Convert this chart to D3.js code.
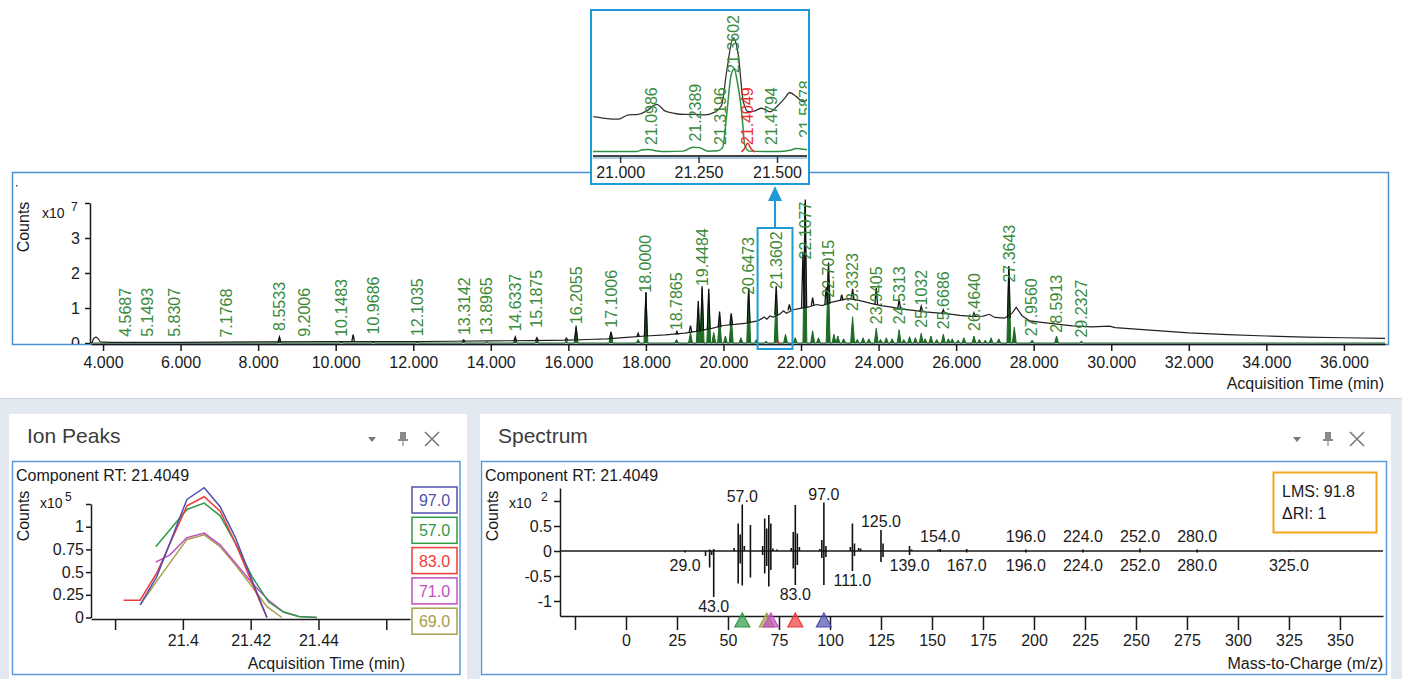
<!DOCTYPE html>
<html><head><meta charset="utf-8">
<script src="https://cdn.jsdelivr.net/npm/d3@7"></script>
<style>
body{margin:0;background:#fff;}
svg{display:block;}
</style></head><body>
<svg id="c" width="1402" height="679"></svg>
<script>
// ---------------- DATA ----------------
// Main chromatogram: TIC baseline (time min, counts x1e7)
const ticBaseline = [[3.69,0.0],[3.72,0.02],[3.76,0.13],[3.82,0.17],[3.88,0.12],[3.93,0.03],[4.2,0.02],[6,0.02],[8,0.03],[10,0.04],[12,0.04],[13,0.05],[14,0.06],[15,0.07],[16,0.08],[16.5,0.1],[17,0.12],[17.5,0.16],[18,0.2],[18.5,0.23],[19,0.28],[19.3,0.33],[19.7,0.42],[20,0.5],[20.3,0.53],[20.6,0.57],[20.9,0.64],[21.05,0.74],[21.12,0.68],[21.2,0.77],[21.28,0.74],[21.45,0.82],[21.55,0.92],[21.62,0.85],[21.8,0.95],[21.95,0.98],[22.2,1.03],[22.4,1.1],[22.55,1.07],[22.8,1.17],[23.0,1.22],[23.2,1.27],[23.4,1.24],[23.6,1.19],[23.8,1.13],[24.1,1.06],[24.3,1.03],[24.6,0.97],[24.9,0.93],[25.2,0.89],[25.5,0.86],[25.8,0.83],[26.1,0.79],[26.4,0.76],[26.7,0.77],[26.85,0.82],[27.0,0.73],[27.25,0.71],[27.45,0.86],[27.55,1.02],[27.7,0.78],[27.9,0.63],[28.2,0.59],[28.6,0.54],[29.0,0.49],[29.5,0.46],[29.95,0.48],[30.1,0.44],[31,0.37],[32,0.29],[33,0.24],[34,0.2],[35,0.17],[36,0.15],[37.06,0.13]];
// TIC spikes: [time, base, apex]
const ticPeaks = [[8.55,0.03,0.17],[10.45,0.04,0.24],[13.3,0.05,0.09],[14.63,0.06,0.17],[15.19,0.07,0.15],[15.95,0.08,0.14],[16.2,0.09,0.45],[17.1,0.13,0.32],[17.8,0.18,0.28],[18.0,0.2,1.45],[18.8,0.24,0.33],[19.15,0.3,0.5],[19.35,0.33,1.2],[19.45,0.36,1.62],[19.62,0.4,1.55],[19.9,0.45,0.9],[20.2,0.52,0.85],[20.65,0.58,1.57],[21.36,0.8,1.63],[21.7,0.93,1.1],[22.05,1.0,2.6],[22.11,1.01,4.1],[22.3,1.06,1.3],[22.65,1.1,1.6],[22.71,1.12,2.3],[23.05,1.22,1.38],[23.33,1.25,1.55],[23.94,1.1,1.57],[24.53,0.98,1.25],[25.1,0.9,1.05],[25.67,0.85,0.95],[26.46,0.76,0.86],[27.36,0.71,2.2]];
// Component (green) peaks: [time, apex]
const greenPeaks = [[8.55,0.15],[10.15,0.04],[10.97,0.04],[12.1,0.03],[13.3,0.05],[13.9,0.03],[14.63,0.13],[15.19,0.1],[15.95,0.06],[16.2,0.5],[17.1,0.3],[17.8,0.1],[18.0,1.45],[18.79,0.1],[19.15,0.3],[19.35,1.0],[19.45,1.55],[19.62,1.4],[19.75,0.3],[19.9,0.75],[20.05,0.2],[20.2,0.8],[20.45,0.15],[20.65,1.55],[20.85,0.1],[21.1,0.05],[21.36,1.4],[21.6,0.25],[21.85,0.15],[22.1,4.0],[22.3,0.35],[22.45,0.15],[22.7,2.1],[22.85,0.25],[22.95,0.2],[23.1,0.12],[23.33,0.75],[23.45,0.1],[23.6,0.15],[23.75,0.12],[23.94,0.42],[24.05,0.1],[24.2,0.15],[24.35,0.12],[24.53,0.38],[24.65,0.1],[24.8,0.18],[24.95,0.15],[25.1,0.28],[25.2,0.12],[25.35,0.2],[25.5,0.1],[25.67,0.25],[25.8,0.12],[25.9,0.12],[26.05,0.08],[26.2,0.15],[26.46,0.2],[26.6,0.1],[26.75,0.08],[26.9,0.15],[27.1,0.12],[27.36,2.15],[27.5,0.45],[27.96,0.08],[28.59,0.2],[29.23,0.05]];
const redPeaks = [[21.405,0.05]];
const peakLabelTimes = [4.5687,5.1493,5.8307,7.1768,8.5533,9.2006,10.1483,10.9686,12.1035,13.3142,13.8965,14.6337,15.1875,16.2055,17.1006,18.0000,18.7865,19.4484,20.6473,21.3602,22.1077,22.7015,23.3323,23.9405,24.5313,25.1032,25.6686,26.4640,27.3643,27.9560,28.5913,29.2327];
const peakLabelLevels = [0.09,0.09,0.09,0.07,0.26,0.09,0.09,0.16,0.11,0.14,0.14,0.24,0.35,0.45,0.35,1.35,0.28,1.54,1.29,1.45,2.3,1.21,0.83,0.45,0.45,0.35,0.31,0.26,1.64,0.11,0.21,0.07];
const mainTicks = [4,6,8,10,12,14,16,18,20,22,24,26,28,30,32,34,36];
const mainYTicks = [0,1,2,3,4];

// Zoom inset
const insetBlack = [[20.913,0.81],[20.95,0.77],[20.993,0.75],[21.025,0.85],[21.056,0.86],[21.083,0.94],[21.115,1.09],[21.141,0.94],[21.173,0.88],[21.205,0.86],[21.237,0.86],[21.269,0.85],[21.3,0.91],[21.322,1.07],[21.338,1.84],[21.359,2.61],[21.375,2.22],[21.391,1.15],[21.407,0.92],[21.428,0.94],[21.449,1.0],[21.476,0.92],[21.502,1.07],[21.523,1.23],[21.539,1.36],[21.561,1.26],[21.582,1.15],[21.594,1.19]];
const insetGreen = [[20.912,0.01],[21.05,0.01],[21.07,0.05],[21.09,0.06],[21.11,0.03],[21.15,0.01],[21.2,0.02],[21.23,0.11],[21.25,0.1],[21.28,0.02],[21.31,0.03],[21.325,0.1],[21.338,0.85],[21.352,1.75],[21.362,1.9],[21.372,1.6],[21.386,0.9],[21.396,0.15],[21.41,0.02],[21.5,0.01],[21.54,0.04],[21.56,0.08],[21.575,0.07],[21.594,0.05]];
const insetRed = [[21.385,0.0],[21.395,0.08],[21.405,0.2],[21.415,0.08],[21.428,0.0]];
const insetLabelTimes = [21.0986,21.2389,21.3196,21.3602,21.4049,21.4794,21.5878];
const insetLabelLevels = [0.09,0.17,0.09,1.74,0.09,0.09,0.25];
const insetLabelRed = [false,false,false,false,true,false,false];
const insetTicks = [21.0,21.25,21.5];

// Ion peaks (time, counts x1e5)
const ionNames = ["97.0","57.0","83.0","71.0","69.0"];
const ion97 = [[21.3874,0.14],[21.3923,0.45],[21.4012,1.30],[21.4063,1.43],[21.411,1.22],[21.4155,0.88],[21.4204,0.41],[21.4248,0]];
const ion57 = [[21.392,0.78],[21.4012,1.19],[21.4063,1.26],[21.411,1.12],[21.4155,0.82],[21.4204,0.45],[21.4253,0.17],[21.4297,0.06],[21.4342,0.01],[21.4395,0]];
const ion83 = [[21.3825,0.19],[21.3874,0.19],[21.3923,0.49],[21.4012,1.23],[21.4063,1.33],[21.411,1.17],[21.4155,0.82],[21.4204,0.38],[21.4248,0]];
const ion71 = [[21.392,0.61],[21.3962,0.69],[21.4012,0.88],[21.4063,0.93],[21.411,0.80],[21.4155,0.60],[21.4204,0.38],[21.4253,0.19],[21.4297,0.06],[21.4342,0.01],[21.4395,0]];
const ion69 = [[21.3874,0.14],[21.3923,0.40],[21.4012,0.86],[21.4063,0.91],[21.411,0.78],[21.4155,0.58],[21.4204,0.34],[21.4248,0.12],[21.4292,0]];
const ionTicks = [21.38,21.40,21.42,21.44,21.46];
const ionTickLabels = ["","21.4","21.42","21.44",""];
const ionYTicks = [0,0.25,0.5,0.75,1,1.25];

// Spectrum (m/z, intensity x1e2); library drawn mirrored
const sampleSpectrum = [[29,0.01],[41,0.03],[43,0.04],[53,0.06],[55,0.55],[56,0.33],[57,0.93],[58,0.1],[61,0.52],[67,0.1],[68,0.65],[69,0.45],[70,0.72],[71,0.55],[72,0.05],[74,0.03],[81,0.06],[82,0.38],[83,0.92],[84,0.35],[85,0.08],[95,0.04],[96,0.22],[97,0.97],[98,0.1],[110,0.08],[111,0.55],[112,0.15],[114,0.06],[115,0.05],[125,0.42],[126,0.15],[139,0.1],[140,0.03],[153,0.03],[154,0.04],[167,0.04],[196,0.03],[224,0.03],[252,0.05],[280,0.03]];
const librarySpectrum = [[29,0.03],[39,0.1],[41,0.33],[42,0.08],[43,0.92],[55,0.65],[56,0.25],[57,0.69],[61,0.53],[67,0.08],[68,0.45],[69,0.3],[70,0.71],[71,0.38],[82,0.35],[83,0.68],[84,0.28],[96,0.14],[97,0.68],[98,0.12],[111,0.4],[112,0.1],[125,0.22],[126,0.12],[139,0.08],[154,0.02],[167,0.03],[196,0.03],[224,0.03],[252,0.03],[280,0.03],[325,0.01]];
const sampleLabelMz = [57,97,125,154,196,224,252,280];
const libraryLabelMz = [29,43,83,111,139,167,196,224,252,280,325];
const ionMarkerMz = [57,69,71,83,97];
const specTicks = [-25,0,25,50,75,100,125,150,175,200,225,250,275,300,325,350];
const specYTicks = [-1,-0.5,0,0.5,1];

// ---------------- DRAWING ----------------
const FONT = '"Liberation Sans", Arial, sans-serif';
const TXT = '#1a1a1a';
const svg = d3.select('#c').attr('font-family', FONT);

const ionColor = {"97.0":"#5050b0","57.0":"#2f9a45","83.0":"#ee3a3a","71.0":"#c24fc2","69.0":"#a4a04a"};
const markerColor = {57:"#2f9a45",69:"#a4a04a",71:"#c24fc2",83:"#ee3a3a",97:"#5050b0"};

svg.append('rect').attr('width',1402).attr('height',679).attr('fill','#fff');
svg.append('rect').attr('x',0).attr('y',398).attr('width',1402).attr('height',281).attr('fill','#e2e9f0');
svg.append('line').attr('x1',0).attr('x2',1402).attr('y1',398.5).attr('y2',398.5).attr('stroke','#cfd6de');

function styleAxis(g){
  g.attr('font-family', FONT).attr('font-size', 16);
  g.selectAll('text').attr('fill', TXT);
  g.selectAll('line').attr('stroke', TXT).attr('stroke-width', 1.5);
  g.select('.domain').attr('stroke', TXT).attr('stroke-width', 1.5);
}
function expLabel(x, y, base, exp, ex){
  svg.append('text').attr('x',x).attr('y',y).attr('font-size',14).attr('fill',TXT).text(base);
  svg.append('text').attr('x',ex).attr('y',y-7).attr('font-size',12).attr('fill',TXT).text(exp);
}
const defs = svg.append('defs');

// ===== MAIN CHART =====
const xMain = d3.scaleLinear().domain([3.69, 37.06]).range([91, 1385]);
const yMain = d3.scaleLinear().domain([0, 4]).range([343, 203]);

defs.append('clipPath').attr('id','clipMain').append('rect').attr('x',91).attr('y',173).attr('width',1295).attr('height',171);
defs.append('clipPath').attr('id','clipMainY').append('rect').attr('x',-90).attr('y',173).attr('width',100).attr('height',171);

svg.append('rect').attr('x',12.5).attr('y',172.5).attr('width',1376).attr('height',172)
  .attr('fill','none').attr('stroke','#4a8fd2').attr('stroke-width',1.5);
svg.append('rect').attr('x',16).attr('y',185).attr('width',1.5).attr('height',1.5).attr('fill','#555');

const plotMain = svg.append('g').attr('clip-path','url(#clipMain)');
const gw = 0.05;
let gpts = [[xMain.domain()[0],0]];
greenPeaks.forEach(p => { gpts.push([p[0]-gw,0],[p[0],p[1]],[p[0]+gw,0]); });
gpts.push([xMain.domain()[1],0]);
const lineMain = d3.line().x(d=>xMain(d[0])).y(d=>yMain(d[1]));
plotMain.append('path').attr('d', lineMain(gpts)).attr('fill','#1d6b24').attr('stroke','#1d6b24').attr('stroke-width',1);
redPeaks.forEach(p=>{
  plotMain.append('path').attr('d', lineMain([[p[0]-0.03,0],[p[0],p[1]],[p[0]+0.03,0]])).attr('fill','none').attr('stroke','#e03030').attr('stroke-width',1.5);
});
plotMain.append('path').attr('d', lineMain(ticBaseline)).attr('fill','none').attr('stroke','#222').attr('stroke-width',1.2);
ticPeaks.forEach(p=>{
  plotMain.append('path').attr('d', lineMain([[p[0]-0.035,p[1]],[p[0],p[2]],[p[0]+0.035,p[1]]]))
    .attr('fill','none').attr('stroke','#111').attr('stroke-width',1.3);
});
peakLabelTimes.forEach((t,i)=>{
  svg.append('text').attr('transform',`translate(${xMain(t)},${yMain(peakLabelLevels[i])-3}) rotate(-90)`)
    .attr('dominant-baseline','central').attr('font-size',16).attr('fill','#3a8a3a').text(t.toFixed(4));
});
const gxm = svg.append('g').attr('transform','translate(0,344)')
  .call(d3.axisBottom(xMain).tickValues(mainTicks).tickFormat(d3.format('.3f')).tickSize(7).tickSizeOuter(0).tickPadding(6));
styleAxis(gxm);
const gym = svg.append('g').attr('transform','translate(90,0)').attr('clip-path','url(#clipMainY)')
  .call(d3.axisLeft(yMain).tickValues(mainYTicks).tickFormat(d=> d===4 ? '' : d).tickSize(5).tickSizeOuter(0).tickPadding(5));
styleAxis(gym);
expLabel(42, 218, 'x10', '7', 71);
svg.append('text').attr('transform','translate(23,227) rotate(-90)').attr('text-anchor','middle').attr('dominant-baseline','central').attr('font-size',16).attr('fill',TXT).text('Counts');
svg.append('text').attr('x',1384).attr('y',389).attr('text-anchor','end').attr('font-size',16).attr('fill',TXT).text('Acquisition Time (min)');

const selX0 = xMain(20.88), selX1 = xMain(21.78), selXc = xMain(21.33);
svg.append('rect').attr('x',selX0).attr('y',228).attr('width',selX1-selX0).attr('height',121)
  .attr('fill','none').attr('stroke','#1e9bd7').attr('stroke-width',2);
svg.append('line').attr('x1',selXc).attr('x2',selXc).attr('y1',228).attr('y2',199).attr('stroke','#1e9bd7').attr('stroke-width',2);
svg.append('path').attr('d',`M${selXc},186 L${selXc-7},201 L${selXc+7},201 Z`).attr('fill','#1e9bd7');

// ===== INSET =====
const xIns = d3.scaleLinear().domain([20.912, 21.594]).range([593, 807]);
const yIns = d3.scaleLinear().domain([0, 3.2]).range([152, 12]);
svg.append('rect').attr('x',591).attr('y',10).attr('width',218).attr('height',174).attr('fill','#fff').attr('stroke','#1e9bd7').attr('stroke-width',2);
defs.append('clipPath').attr('id','clipIns').append('rect').attr('x',593).attr('y',12).attr('width',214).attr('height',143);
const gi = svg.append('g').attr('clip-path','url(#clipIns)');
const lineIns = d3.line().x(d=>xIns(d[0])).y(d=>yIns(d[1])).curve(d3.curveMonotoneX);
gi.append('path').attr('d',lineIns(insetBlack)).attr('fill','none').attr('stroke','#333').attr('stroke-width',1.3);
gi.append('path').attr('d',lineIns(insetGreen)).attr('fill','none').attr('stroke','#2f8f3f').attr('stroke-width',1.5);
gi.append('path').attr('d',lineIns(insetRed)).attr('fill','none').attr('stroke','#e03030').attr('stroke-width',1.5);
insetLabelTimes.forEach((t,i)=>{
  gi.append('text').attr('transform',`translate(${xIns(t)},${yIns(insetLabelLevels[i])-3}) rotate(-90)`)
    .attr('dominant-baseline','central').attr('font-size',16)
    .attr('fill', insetLabelRed[i] ? '#e83030' : '#3a8a3a').text(t.toFixed(4));
});
svg.append('line').attr('x1',593).attr('x2',807).attr('y1',158).attr('y2',158).attr('stroke','#a8cbe6').attr('stroke-width',2);
svg.append('line').attr('x1',593).attr('x2',807).attr('y1',156).attr('y2',156).attr('stroke','#444').attr('stroke-width',2);
insetTicks.forEach(t=>{
  svg.append('line').attr('x1',xIns(t)).attr('x2',xIns(t)).attr('y1',157).attr('y2',163).attr('stroke','#333').attr('stroke-width',1.5);
  svg.append('text').attr('x',xIns(t)).attr('y',178).attr('text-anchor','middle').attr('font-size',16).attr('fill',TXT).text(t.toFixed(3));
});

// ===== PANELS =====
function panelChrome(x, w, title, iconX){
  svg.append('rect').attr('x',x).attr('y',414).attr('width',w).attr('height',265).attr('fill','#fff');
  svg.append('text').attr('x',x+18).attr('y',443).attr('font-size',21).attr('fill','#3c3c3c').text(title);
  svg.append('path').attr('d',`M${iconX-4},437 L${iconX+4},437 L${iconX},442 Z`).attr('fill','#777');
  const px = iconX+31;
  svg.append('rect').attr('x',px-3).attr('y',432).attr('width',6).attr('height',7).attr('fill','#8a8a8a');
  svg.append('rect').attr('x',px-5).attr('y',439).attr('width',10).attr('height',2).attr('fill','#8a8a8a');
  svg.append('line').attr('x1',px).attr('x2',px).attr('y1',441).attr('y2',446).attr('stroke','#8a8a8a').attr('stroke-width',1.2);
  const cx = iconX+60;
  svg.append('path').attr('d',`M${cx-7},432 L${cx+7},446 M${cx+7},432 L${cx-7},446`).attr('stroke','#7a7a7a').attr('stroke-width',1.6).attr('fill','none');
}
panelChrome(9, 458, 'Ion Peaks', 372);
panelChrome(480, 911, 'Spectrum', 1297);

// ===== ION PEAKS =====
svg.append('rect').attr('x',12.5).attr('y',461.5).attr('width',447.5).attr('height',213).attr('fill','none').attr('stroke','#5a9ad6').attr('stroke-width',1.5);
svg.append('text').attr('x',16).attr('y',481).attr('font-size',16).attr('fill',TXT).text('Component RT: 21.4049');
const xIon = d3.scaleLinear().domain([21.3729, 21.467]).range([91, 410]);
const yIon = d3.scaleLinear().domain([0, 1.25]).range([617.5, 504]);
const gxi = svg.append('g').attr('transform','translate(0,619)')
  .call(d3.axisBottom(xIon).tickValues(ionTicks).tickFormat((d,i)=>ionTickLabels[i]).tickSize(11).tickSizeOuter(0).tickPadding(5));
styleAxis(gxi);
const gyi = svg.append('g').attr('transform','translate(91,0)')
  .call(d3.axisLeft(yIon).tickValues(ionYTicks).tickFormat(d=> d===1.25 ? '' : String(d)).tickSize(5).tickSizeOuter(0).tickPadding(2));
styleAxis(gyi);
expLabel(40, 508, 'x10', '5', 65);
svg.append('text').attr('transform','translate(23,516) rotate(-90)').attr('text-anchor','middle').attr('dominant-baseline','central').attr('font-size',16).attr('fill',TXT).text('Counts');
svg.append('text').attr('x',405).attr('y',669).attr('text-anchor','end').attr('font-size',16).attr('fill',TXT).text('Acquisition Time (min)');
const lineIon = d3.line().x(d=>xIon(d[0])).y(d=>yIon(d[1]));
const ionSeries = {"97.0":ion97,"57.0":ion57,"83.0":ion83,"71.0":ion71,"69.0":ion69};
["69.0","71.0","57.0","83.0","97.0"].forEach(k=>{
  svg.append('path').attr('d',lineIon(ionSeries[k])).attr('fill','none').attr('stroke',ionColor[k]).attr('stroke-width',1.5);
});
ionNames.forEach((k,i)=>{
  const y0 = 487 + i*30.3;
  svg.append('rect').attr('x',412).attr('y',y0).attr('width',45).attr('height',26).attr('fill','#fff').attr('stroke',ionColor[k]).attr('stroke-width',1.5);
  svg.append('text').attr('x',434.5).attr('y',y0+19).attr('text-anchor','middle').attr('font-size',16).attr('fill',ionColor[k]).text(k);
});

// ===== SPECTRUM =====
svg.append('rect').attr('x',481.5).attr('y',461.5).attr('width',905).attr('height',213).attr('fill','none').attr('stroke','#5a9ad6').attr('stroke-width',1.5);
svg.append('text').attr('x',485).attr('y',481).attr('font-size',16).attr('fill',TXT).text('Component RT: 21.4049');
const xSp = d3.scaleLinear().domain([-32.35, 371.1]).range([560, 1383]);
const ySp = d3.scaleLinear().domain([-1.3, 1.26]).range([616, 488]);
const gxs = svg.append('g').attr('transform','translate(0,616)')
  .call(d3.axisBottom(xSp).tickValues(specTicks).tickFormat(d=> d===-25 ? '' : String(d)).tickSize(14).tickSizeOuter(0).tickPadding(5));
styleAxis(gxs);
const gys = svg.append('g').attr('transform','translate(560,0)')
  .call(d3.axisLeft(ySp).tickValues(specYTicks).tickFormat(d=> d===1 ? '' : String(d)).tickSize(6).tickSizeOuter(0).tickPadding(2));
styleAxis(gys);
svg.append('line').attr('x1',560).attr('x2',1383).attr('y1',ySp(0)).attr('y2',ySp(0)).attr('stroke',TXT).attr('stroke-width',1.5);
sampleSpectrum.forEach(d=>{
  svg.append('line').attr('x1',xSp(d[0])).attr('x2',xSp(d[0])).attr('y1',ySp(0)).attr('y2',ySp(d[1])).attr('stroke','#111').attr('stroke-width',1.6);
});
librarySpectrum.forEach(d=>{
  svg.append('line').attr('x1',xSp(d[0])).attr('x2',xSp(d[0])).attr('y1',ySp(0)).attr('y2',ySp(-d[1])).attr('stroke','#111').attr('stroke-width',1.6);
});
const sMap = new Map(sampleSpectrum), lMap = new Map(librarySpectrum);
sampleLabelMz.forEach(m=>{
  const yb = Math.min(ySp(sMap.get(m)||0)-3, ySp(0)-9);
  svg.append('text').attr('x',xSp(m)).attr('y',yb).attr('text-anchor','middle').attr('font-size',16).attr('fill',TXT).text(m.toFixed(1));
});
libraryLabelMz.forEach(m=>{
  const yt = Math.max(ySp(-(lMap.get(m)||0))+3, ySp(0)+8);
  svg.append('text').attr('x',xSp(m)).attr('y',yt+12).attr('text-anchor','middle').attr('font-size',16).attr('fill',TXT).text(m.toFixed(1));
});
ionMarkerMz.forEach(m=>{
  const x = xSp(m), c = markerColor[m];
  svg.append('path').attr('d',`M${x},613 L${x-7.5},627 L${x+7.5},627 Z`).attr('fill',c).attr('fill-opacity',0.7).attr('stroke',c).attr('stroke-width',1.2);
});
expLabel(509, 508, 'x10', '2', 541);
svg.append('text').attr('transform','translate(492,516) rotate(-90)').attr('text-anchor','middle').attr('dominant-baseline','central').attr('font-size',16).attr('fill',TXT).text('Counts');
svg.append('text').attr('x',1383).attr('y',669).attr('text-anchor','end').attr('font-size',16).attr('fill',TXT).text('Mass-to-Charge (m/z)');
svg.append('rect').attr('x',1273.5).attr('y',472.5).attr('width',103).attr('height',60).attr('fill','#fff').attr('stroke','#f2a71b').attr('stroke-width',2);
svg.append('text').attr('x',1282).attr('y',497).attr('font-size',16).attr('fill',TXT).text('LMS: 91.8');
svg.append('text').attr('x',1282).attr('y',519).attr('font-size',16).attr('fill',TXT).text('ΔRI: 1');
</script>
</body></html>
